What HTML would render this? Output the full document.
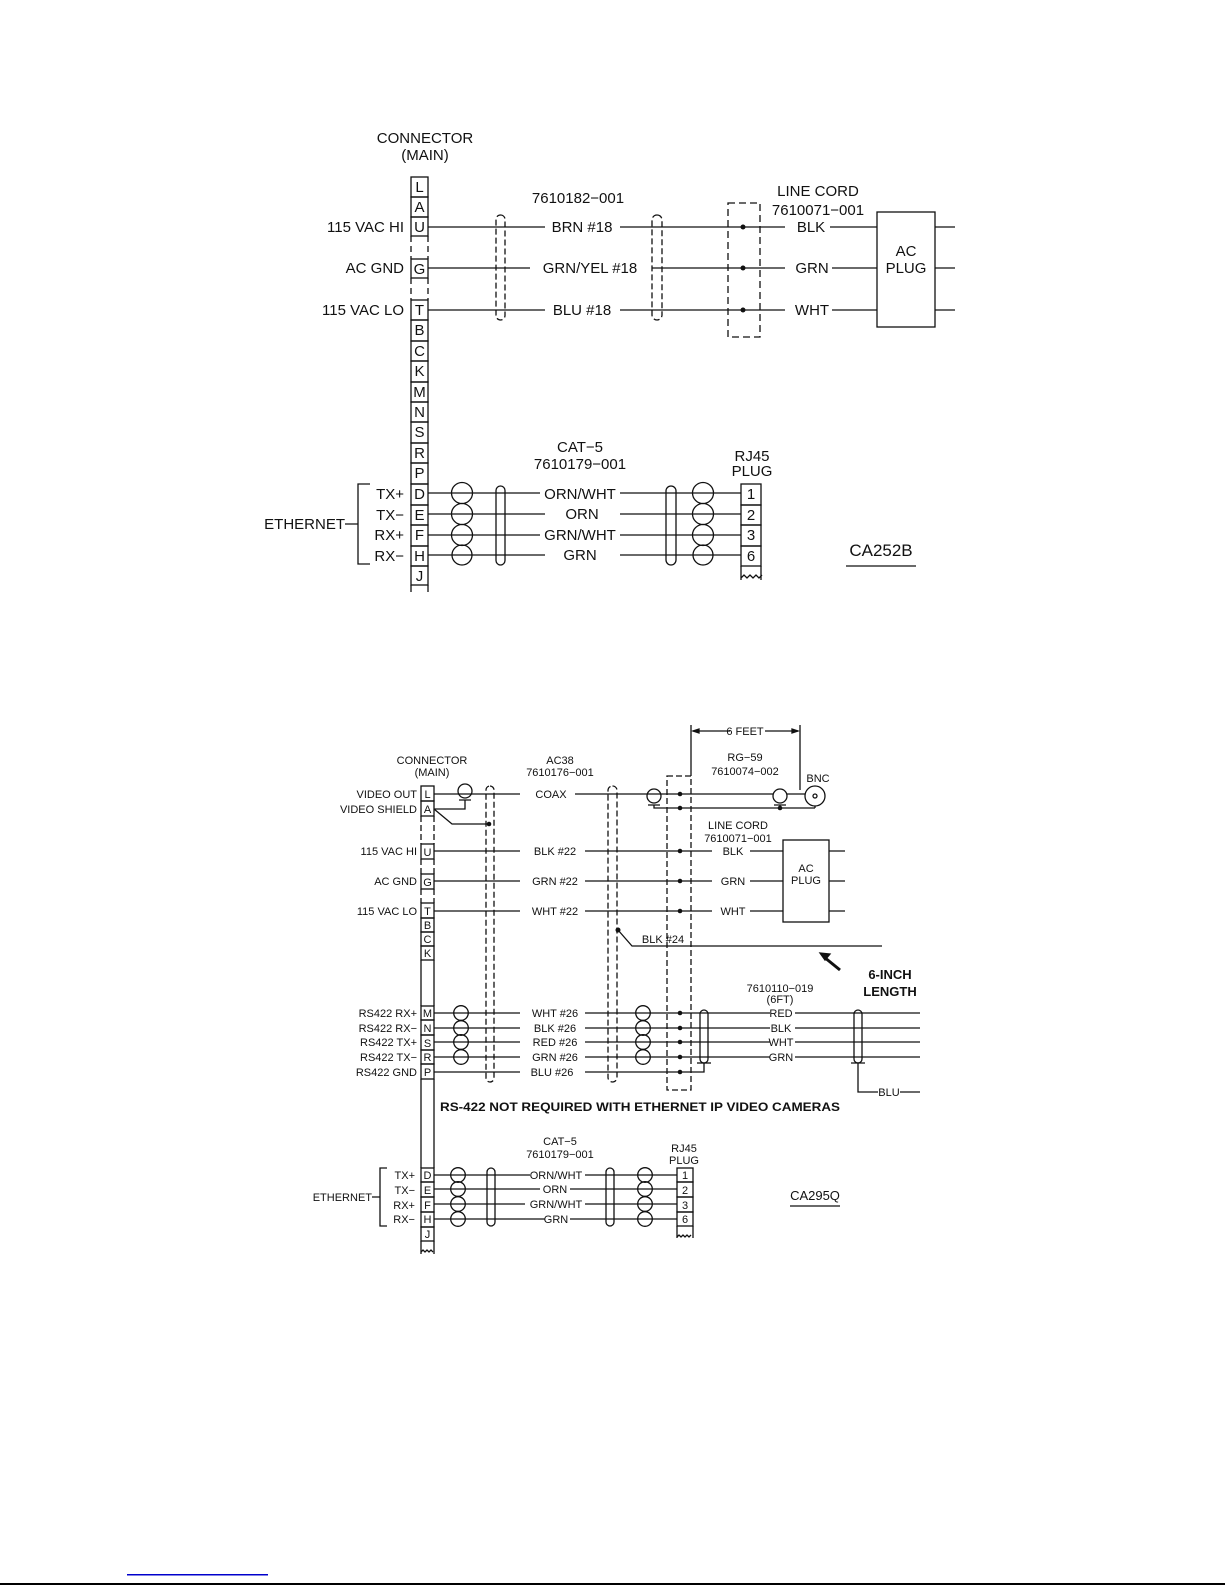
<!DOCTYPE html>
<html><head><meta charset="utf-8"><style>
html,body{margin:0;padding:0;background:#fff}
svg{display:block}
text{font-family:"Liberation Sans",sans-serif;fill:#111}
.t{font-size:15px}
.s{font-size:11px}
</style></head><body>
<svg width="1225" height="1585" viewBox="0 0 1225 1585" xmlns="http://www.w3.org/2000/svg">
<g stroke="#111" stroke-width="1.3" fill="none">
<!-- ===== TOP DIAGRAM ===== -->
<!-- connector pins -->
<rect x="411" y="177" width="17" height="20"/><rect x="411" y="197" width="17" height="20"/><rect x="411" y="217" width="17" height="19"/>
<rect x="411" y="259" width="17" height="19"/>
<rect x="411" y="300" width="17" height="20"/><rect x="411" y="320" width="17" height="21"/><rect x="411" y="341" width="17" height="20"/>
<rect x="411" y="361" width="17" height="21"/><rect x="411" y="382" width="17" height="20"/><rect x="411" y="402" width="17" height="20"/>
<rect x="411" y="422" width="17" height="21"/><rect x="411" y="443" width="17" height="20"/><rect x="411" y="463" width="17" height="21"/>
<rect x="411" y="484" width="17" height="21"/><rect x="411" y="505" width="17" height="20"/><rect x="411" y="525" width="17" height="21"/>
<rect x="411" y="546" width="17" height="20"/><rect x="411" y="566" width="17" height="19"/>
<path d="M411 236V259M428 236V259M411 278V300M428 278V300" stroke-dasharray="6,4"/>
<path d="M411 585V592M428 585V592"/>
<!-- power wires -->
<path d="M428 227H545M620 227H785M830 227H877"/>
<path d="M428 268H530M652 268H785M832 268H877"/>
<path d="M428 310H545M620 310H785M832 310H877"/>
<rect x="496" y="215" width="9" height="105" rx="4.5" stroke-dasharray="6,3"/>
<rect x="652" y="215" width="10" height="105" rx="5" stroke-dasharray="6,3"/>
<rect x="728" y="203" width="32" height="134" stroke-dasharray="7,4"/>
<rect x="877" y="212" width="58" height="115"/>
<path d="M935 227H955M935 268H955M935 310H955"/>
<!-- ethernet -->
<path d="M428 493H540M620 493H741M428 514H545M620 514H741M428 535H540M620 535H741M428 555H545M620 555H741"/>
<circle cx="462" cy="493" r="10.5"/><circle cx="462" cy="514" r="10.5"/><circle cx="462" cy="535" r="10.5"/><circle cx="462" cy="555" r="10"/>
<circle cx="703" cy="493" r="10.5"/><circle cx="703" cy="514" r="10.5"/><circle cx="703" cy="535" r="10.5"/><circle cx="703" cy="555" r="10"/>
<rect x="496" y="486" width="9" height="79" rx="4.5"/>
<rect x="666" y="486" width="10" height="79" rx="5"/>
<rect x="741" y="484" width="20" height="21"/><rect x="741" y="505" width="20" height="20"/><rect x="741" y="525" width="20" height="21"/><rect x="741" y="546" width="20" height="20"/>
<path d="M741 566V580M761 566V580M741 578l3 -3l3 3l3 -3l3 3l3 -3l3 3l3 -3"/>
<path d="M370 484H358V564H370M345 524H358"/>
<path d="M846 566H916"/>
<!-- ===== BOTTOM DIAGRAM ===== -->
<rect x="421" y="786" width="13" height="15"/><rect x="421" y="801" width="13" height="15"/>
<rect x="421" y="844" width="13" height="15"/><rect x="421" y="874" width="13" height="15"/>
<rect x="421" y="903" width="13" height="15"/><rect x="421" y="918" width="13" height="14"/><rect x="421" y="932" width="13" height="14"/><rect x="421" y="946" width="13" height="14"/>
<rect x="421" y="1006" width="13" height="14"/><rect x="421" y="1020" width="13" height="15"/><rect x="421" y="1035" width="13" height="15"/><rect x="421" y="1050" width="13" height="14"/><rect x="421" y="1064" width="13" height="15"/>
<rect x="421" y="1168" width="13" height="14"/><rect x="421" y="1182" width="13" height="15"/><rect x="421" y="1197" width="13" height="15"/><rect x="421" y="1212" width="13" height="15"/><rect x="421" y="1227" width="13" height="14"/>
<path d="M421 816V844M434 816V844M421 859V874M434 859V874M421 889V903M434 889V903" stroke-dasharray="6,3"/>
<path d="M421 960V1006M434 960V1006M421 1079V1168M434 1079V1168M421 1241V1254M434 1241V1254"/>
<path d="M421 1252l2 -2l2 2l2 -2l2 2l2 -2l2 2"/>
<!-- cable outlines -->
<rect x="486" y="786" width="8" height="296" rx="4" stroke-dasharray="6,3"/>
<rect x="608" y="786" width="9" height="296" rx="4.5" stroke-dasharray="6,3"/>
<rect x="667" y="776" width="24" height="314" stroke-dasharray="6,3"/>
<!-- video -->
<path d="M434 794H520M575 794H773M787 794H805"/>
<circle cx="465" cy="791" r="7"/><path d="M459 800H471M465 800V809H434M434 809L452 824H489"/>
<circle cx="654" cy="796" r="7"/><path d="M648 805H660M654 805V808H815"/>
<circle cx="780" cy="796" r="7"/><path d="M774 805H786M780 805V808"/>
<circle cx="815" cy="796" r="10"/><circle cx="815" cy="796" r="2"/><path d="M815 806V808"/>
<path d="M691 725V776M800 725V790M693 731H730M765 731H798"/>
<path d="M693 731l6 -2v4zM798 731l-6 -2v4z" fill="#111"/>
<!-- power -->
<path d="M434 851H520M585 851H712M750 851H783M434 881H520M585 881H712M750 881H783M434 911H520M585 911H712M750 911H783"/>
<rect x="783" y="840" width="46" height="82"/>
<path d="M829 851H845M829 881H845M829 911H845"/>
<path d="M618 930L632 946H882"/>
<path d="M840 970L824 957" stroke-width="3"/><path d="M820 953l10 1l-5 6z" fill="#111"/>
<!-- rs422 -->
<path d="M434 1013H520M585 1013H770M795 1013H920M434 1028H520M585 1028H770M795 1028H920M434 1042H520M585 1042H770M795 1042H920M434 1057H520M585 1057H770M795 1057H920M434 1072H520M585 1072H704V1063"/>
<circle cx="461" cy="1013" r="7.3"/><circle cx="461" cy="1028" r="7.3"/><circle cx="461" cy="1042" r="7.3"/><circle cx="461" cy="1057" r="7.3"/>
<circle cx="643" cy="1013" r="7.3"/><circle cx="643" cy="1028" r="7.3"/><circle cx="643" cy="1042" r="7.3"/><circle cx="643" cy="1057" r="7.3"/>
<rect x="700" y="1010" width="8" height="53" rx="4"/><path d="M697 1063H711"/>
<rect x="854" y="1010" width="8" height="53" rx="4"/><path d="M851 1063H865M858 1063V1092H878M900 1092H920"/>
<!-- bottom ethernet -->
<path d="M434 1175H530M585 1175H677M434 1189H540M570 1189H677M434 1204H525M585 1204H677M434 1219H545M570 1219H677"/>
<circle cx="458" cy="1175" r="7.3"/><circle cx="458" cy="1189" r="7.3"/><circle cx="458" cy="1204" r="7.3"/><circle cx="458" cy="1219" r="7.3"/>
<circle cx="645" cy="1175" r="7.3"/><circle cx="645" cy="1189" r="7.3"/><circle cx="645" cy="1204" r="7.3"/><circle cx="645" cy="1219" r="7.3"/>
<rect x="487" y="1168" width="8" height="58" rx="4"/><rect x="606" y="1168" width="8" height="58" rx="4"/>
<rect x="677" y="1168" width="16" height="14"/><rect x="677" y="1182" width="16" height="15"/><rect x="677" y="1197" width="16" height="15"/><rect x="677" y="1212" width="16" height="14"/>
<path d="M677 1226V1238M693 1226V1238M677 1237l2 -2l2 2l2 -2l2 2l2 -2l2 2l2 -2"/>
<path d="M387 1168H380V1226H387M372 1197H380"/>
<path d="M790 1206H840"/>
</g>
<g fill="#111">
<circle cx="743" cy="227" r="2.5"/><circle cx="743" cy="268" r="2.5"/><circle cx="743" cy="310" r="2.5"/>
<circle cx="680" cy="794" r="2.3"/><circle cx="680" cy="808" r="2.3"/><circle cx="780" cy="808" r="2.3"/><circle cx="489" cy="824" r="2.3"/>
<circle cx="680" cy="851" r="2.3"/><circle cx="680" cy="881" r="2.3"/><circle cx="680" cy="911" r="2.3"/><circle cx="618" cy="930" r="2.5"/>
<circle cx="680" cy="1013" r="2.3"/><circle cx="680" cy="1028" r="2.3"/><circle cx="680" cy="1042" r="2.3"/><circle cx="680" cy="1057" r="2.3"/><circle cx="680" cy="1072" r="2.3"/>
</g>
<rect x="127" y="1574" width="141" height="1.5" fill="#0000cc"/>
<rect x="0" y="1583" width="1225" height="2" fill="#000"/>
<!-- top text -->
<g class="t" text-anchor="middle">
<text x="425" y="143">CONNECTOR</text><text x="425" y="160">(MAIN)</text>
<text x="419.5" y="192">L</text><text x="419.5" y="212">A</text><text x="419.5" y="232">U</text><text x="419.5" y="274">G</text>
<text x="419.5" y="315">T</text><text x="419.5" y="335">B</text><text x="419.5" y="356">C</text><text x="419.5" y="376">K</text>
<text x="419.5" y="397">M</text><text x="419.5" y="417">N</text><text x="419.5" y="437">S</text><text x="419.5" y="458">R</text>
<text x="419.5" y="478">P</text><text x="419.5" y="499">D</text><text x="419.5" y="520">E</text><text x="419.5" y="540">F</text>
<text x="419.5" y="561">H</text><text x="419.5" y="581">J</text>
<text x="578" y="203">7610182−001</text>
<text x="818" y="196">LINE CORD</text><text x="818" y="215">7610071−001</text>
<text x="582" y="232">BRN #18</text><text x="590" y="273">GRN/YEL #18</text><text x="582" y="315">BLU #18</text>
<text x="811" y="232">BLK</text><text x="812" y="273">GRN</text><text x="812" y="315">WHT</text>
<text x="906" y="256">AC</text><text x="906" y="273">PLUG</text>
<text x="580" y="452">CAT−5</text><text x="580" y="469">7610179−001</text>
<text x="752" y="461">RJ45</text><text x="752" y="476">PLUG</text>
<text x="580" y="499">ORN/WHT</text><text x="582" y="519">ORN</text><text x="580" y="540">GRN/WHT</text><text x="580" y="560">GRN</text>
<text x="751" y="499">1</text><text x="751" y="520">2</text><text x="751" y="540">3</text><text x="751" y="561">6</text>
<text x="881" y="556" style="font-size:17px">CA252B</text>
</g>
<g class="t" text-anchor="end">
<text x="404" y="232">115 VAC HI</text><text x="404" y="273">AC GND</text><text x="404" y="315">115 VAC LO</text>
<text x="404" y="499">TX+</text><text x="404" y="520">TX−</text><text x="404" y="540">RX+</text><text x="404" y="561">RX−</text>
<text x="345" y="529">ETHERNET</text>
</g>
<!-- bottom text -->
<g class="s" text-anchor="middle">
<text x="432" y="764">CONNECTOR</text><text x="432" y="776">(MAIN)</text>
<text x="560" y="764">AC38</text><text x="560" y="776">7610176−001</text>
<text x="745" y="735">6 FEET</text>
<text x="745" y="761">RG−59</text><text x="745" y="775">7610074−002</text><text x="818" y="782">BNC</text>
<text x="738" y="829">LINE CORD</text><text x="738" y="842">7610071−001</text>
<text x="427.5" y="798">L</text><text x="427.5" y="813">A</text><text x="427.5" y="856">U</text><text x="427.5" y="886">G</text>
<text x="427.5" y="915">T</text><text x="427.5" y="929">B</text><text x="427.5" y="943">C</text><text x="427.5" y="957">K</text>
<text x="427.5" y="1017">M</text><text x="427.5" y="1032">N</text><text x="427.5" y="1047">S</text><text x="427.5" y="1061">R</text><text x="427.5" y="1076">P</text>
<text x="427.5" y="1179">D</text><text x="427.5" y="1194">E</text><text x="427.5" y="1209">F</text><text x="427.5" y="1223">H</text><text x="427.5" y="1238">J</text>
<text x="551" y="798">COAX</text>
<text x="555" y="855">BLK #22</text><text x="555" y="885">GRN #22</text><text x="555" y="915">WHT #22</text>
<text x="733" y="855">BLK</text><text x="733" y="885">GRN</text><text x="733" y="915">WHT</text>
<text x="806" y="872">AC</text><text x="806" y="884">PLUG</text>
<text x="663" y="943">BLK #24</text>
<text x="780" y="992">7610110−019</text><text x="780" y="1003">(6FT)</text>
<text x="555" y="1017">WHT #26</text><text x="555" y="1032">BLK #26</text><text x="555" y="1046">RED #26</text><text x="555" y="1061">GRN #26</text><text x="552" y="1076">BLU #26</text>
<text x="781" y="1017">RED</text><text x="781" y="1032">BLK</text><text x="781" y="1046">WHT</text><text x="781" y="1061">GRN</text>
<text x="889" y="1096">BLU</text>
<text x="560" y="1145">CAT−5</text><text x="560" y="1158">7610179−001</text>
<text x="684" y="1152">RJ45</text><text x="684" y="1164">PLUG</text>
<text x="556" y="1179">ORN/WHT</text><text x="555" y="1193">ORN</text><text x="556" y="1208">GRN/WHT</text><text x="556" y="1223">GRN</text>
<text x="685" y="1179">1</text><text x="685" y="1194">2</text><text x="685" y="1209">3</text><text x="685" y="1223">6</text>
<text x="815" y="1200" style="font-size:13px">CA295Q</text>
</g>
<g class="s" text-anchor="end">
<text x="417" y="798">VIDEO OUT</text><text x="417" y="813">VIDEO SHIELD</text>
<text x="417" y="855">115 VAC HI</text><text x="417" y="885">AC GND</text><text x="417" y="915">115 VAC LO</text>
<text x="417" y="1017">RS422 RX+</text><text x="417" y="1032">RS422 RX−</text><text x="417" y="1046">RS422 TX+</text><text x="417" y="1061">RS422 TX−</text><text x="417" y="1076">RS422 GND</text>
<text x="415" y="1179">TX+</text><text x="415" y="1194">TX−</text><text x="415" y="1209">RX+</text><text x="415" y="1223">RX−</text>
<text x="372" y="1201">ETHERNET</text>
</g>
<g style="font-size:13px;font-weight:bold" text-anchor="middle">
<text x="890" y="979">6-INCH</text><text x="890" y="996">LENGTH</text>
<text x="640" y="1111" style="font-size:12px" textLength="400" lengthAdjust="spacingAndGlyphs">RS-422 NOT REQUIRED WITH ETHERNET IP VIDEO CAMERAS</text>
</g>
</svg>
</body></html>
